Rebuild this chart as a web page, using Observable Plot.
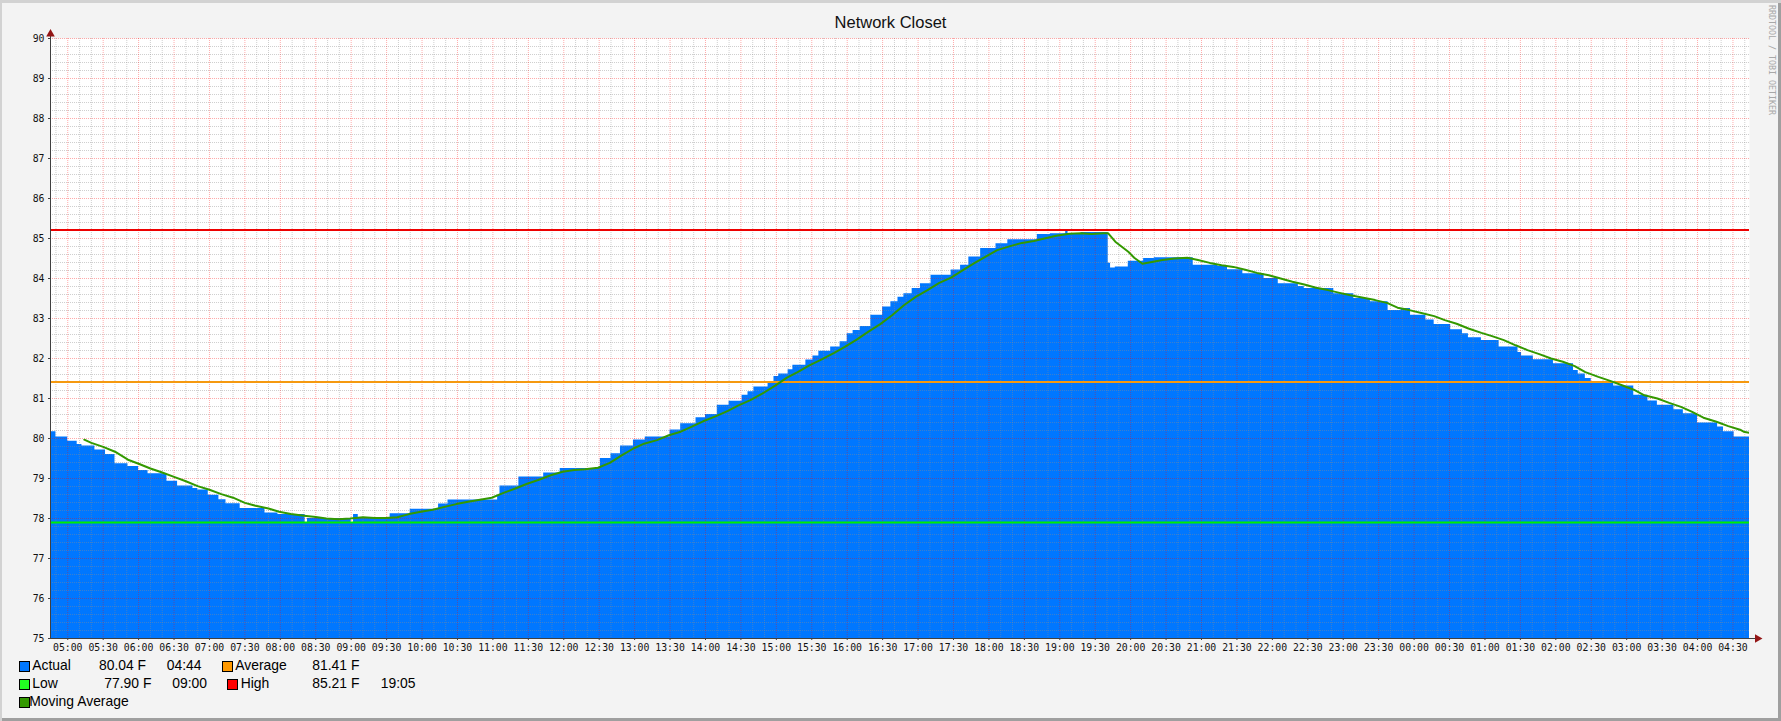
<!DOCTYPE html>
<html><head><meta charset="utf-8">
<script src="https://cdn.jsdelivr.net/npm/d3@7"></script>
<script src="https://cdn.jsdelivr.net/npm/@observablehq/plot@0.6"></script>
<style>
html,body{margin:0;padding:0;background:#f3f3f3;}
#wrap{position:relative;width:1781px;height:721px;background:#f3f3f3;overflow:hidden;box-shadow:inset 2px 3px 0 #d2d2d2, inset -3px -3px 0 #9f9f9f;}
#chart{position:absolute;left:0;top:0;}
#title{position:absolute;left:0;top:13.7px;width:1781px;text-align:center;font-family:"Liberation Sans";font-size:16.5px;line-height:16.5px;color:#111;white-space:pre;}
.t{position:absolute;font-family:"Liberation Sans";font-size:13.9px;line-height:13.9px;color:#000;white-space:pre;}
.sw{position:absolute;width:9px;height:9px;border:1px solid #000;}
#wm{position:absolute;left:1776px;top:5px;transform:rotate(90deg);transform-origin:0 0;font-family:"DejaVu Sans Mono";font-size:8.3px;line-height:9px;height:9px;color:#a8a8a8;white-space:pre;}
</style>
</head><body>
<div id="wrap">
  <div id="chart"></div>
  <div id="title"></div>
  <div id="wm"></div>
</div>
<script>
// ---------- data ----------
const title = "Network Closet";
const watermark = "RRDTOOL / TOBI OETIKER";
const yDomain = [75, 90];
const timeStart = "04:45:24";
const timeEnd = "04:44:00";

// Actual temperature (F): step series [start time, value]
const actualSeries = [
["04:45",80.17],["04:50",80.04],["05:00",79.93],["05:08",79.85],["05:12",79.81],["05:23",79.71],
["05:32",79.60],["05:40",79.37],["05:51",79.30],["06:00",79.20],["06:08",79.12],["06:24",78.93],
["06:33",78.81],["06:46",78.75],["06:50",78.71],["06:59",78.58],["07:08",78.47],["07:14",78.37],
["07:26",78.25],["07:47",78.14],["07:58",78.10],["08:21",77.90],["08:23",78.00],["09:00",77.90],
["09:02",78.10],["09:06",78.02],["09:33",78.12],["09:50",78.23],["10:14",78.36],["10:22",78.46],
["11:04",78.58],["11:06",78.81],["11:22",79.04],["11:43",79.14],["11:57",79.25],["12:31",79.50],
["12:40",79.62],["12:48",79.81],["12:59",79.96],["13:09",80.04],["13:30",80.21],["13:39",80.37],
["13:52",80.52],["14:00",80.60],["14:10",80.83],["14:20",80.93],["14:31",81.08],["14:36",81.17],
["14:41",81.29],["14:53",81.40],["14:58",81.55],["15:02",81.61],["15:10",81.72],["15:14",81.83],
["15:25",81.96],["15:31",82.06],["15:36",82.18],["15:46",82.29],["15:54",82.42],["16:00",82.62],
["16:05",82.70],["16:11",82.80],["16:20",83.08],["16:30",83.29],["16:37",83.42],["16:43",83.53],
["16:48",83.62],["16:55",83.75],["17:02",83.87],["17:11",84.08],["17:28",84.21],["17:36",84.33],
["17:43",84.54],["17:53",84.75],["18:06",84.87],["18:16",84.97],["18:41",85.10],["18:52",85.12],
["19:05",85.21],["19:07",85.12],["19:18",85.15],["19:41",84.38],["19:43",84.26],["19:47",84.29],
["19:58",84.43],["20:11",84.50],["20:20",84.52],["20:53",84.33],["21:14",84.30],["21:22",84.22],
["21:35",84.12],["21:53",84.00],["22:05",83.87],["22:22",83.80],["22:27",83.75],["22:52",83.62],
["23:09",83.50],["23:23",83.42],["23:38",83.20],["23:49",83.25],["23:57",83.08],["00:10",82.96],
["00:17",82.85],["00:31",82.72],["00:41",82.62],["00:46",82.52],["00:57",82.45],["01:12",82.29],
["01:28",82.15],["01:31",82.06],["01:41",81.97],["01:58",81.87],["02:15",81.70],["02:19",81.61],
["02:25",81.50],["02:30",81.42],["02:49",81.31],["03:06",81.08],["03:18",80.94],["03:26",80.83],
["03:40",80.72],["03:48",80.62],["04:00",80.39],["04:17",80.29],["04:22",80.17],["04:31",80.04],
["04:44",80.04]
];

// Moving average (F)
const maSeries = [
["05:14",79.97],["05:20",79.89],["05:30",79.79],["05:40",79.67],["05:51",79.47],["06:00",79.37],
["06:10",79.25],["06:20",79.15],["06:30",79.04],["06:40",78.93],["06:50",78.81],["07:00",78.72],
["07:10",78.61],["07:20",78.52],["07:30",78.39],["07:40",78.31],["07:50",78.25],["07:59",78.17],
["08:09",78.11],["08:20",78.07],["08:30",78.04],["08:39",78.00],["08:49",77.98],["08:59",78.00],
["09:10",78.03],["09:20",78.01],["09:29",78.01],["09:39",78.03],["09:49",78.11],["09:59",78.17],
["10:09",78.22],["10:19",78.29],["10:29",78.36],["10:39",78.42],["10:49",78.47],["10:59",78.52],
["11:09",78.64],["11:19",78.75],["11:29",78.87],["11:39",78.97],["11:49",79.08],["11:59",79.17],
["12:09",79.21],["12:18",79.23],["12:29",79.27],["12:39",79.39],["12:49",79.58],["12:59",79.75],
["13:08",79.87],["13:19",79.96],["13:29",80.08],["13:39",80.17],["13:48",80.29],["13:58",80.43],
["14:09",80.56],["14:19",80.69],["14:28",80.83],["14:38",80.96],["14:48",81.12],["14:59",81.32],
["15:09",81.52],["15:18",81.66],["15:28",81.83],["15:38",81.97],["15:49",82.14],["15:58",82.29],
["16:08",82.47],["16:18",82.67],["16:28",82.86],["16:38",83.08],["16:48",83.33],["16:58",83.54],
["17:08",83.71],["17:18",83.89],["17:28",84.02],["17:38",84.21],["17:48",84.39],["17:58",84.56],
["18:07",84.71],["18:18",84.81],["18:28",84.89],["18:38",84.94],["18:47",85.00],["18:57",85.07],
["19:08",85.12],["19:18",85.13],["19:27",85.11],["19:37",85.13],["19:41",85.13],["19:47",84.92],
["19:58",84.67],["20:03",84.52],["20:10",84.37],["20:27",84.46],["20:37",84.50],["20:48",84.52],
["20:57",84.46],["21:07",84.39],["21:17",84.33],["21:27",84.29],["21:37",84.22],["21:47",84.14],
["21:57",84.08],["22:07",84.00],["22:17",83.92],["22:27",83.85],["22:37",83.77],["22:47",83.71],
["22:57",83.64],["23:06",83.58],["23:17",83.52],["23:27",83.46],["23:37",83.39],["23:46",83.27],
["23:56",83.21],["00:07",83.13],["00:17",83.06],["00:26",82.96],["00:36",82.87],["00:46",82.75],
["00:57",82.64],["01:06",82.56],["01:16",82.46],["01:26",82.33],["01:36",82.21],["01:46",82.11],
["01:56",82.00],["02:06",81.92],["02:16",81.81],["02:25",81.66],["02:36",81.54],["02:46",81.44],
["02:56",81.33],["03:06",81.22],["03:15",81.08],["03:26",81.00],["03:36",80.89],["03:46",80.79],
["03:55",80.67],["04:05",80.52],["04:16",80.42],["04:26",80.31],["04:36",80.22],["04:39",80.17],
["04:44",80.14]
];

// Summary statistics (legend + rules)
const actualLast = 80.04, actualLastTime = "04:44";
const averageValue = 81.41;
const lowValue = 77.90, lowTime = "09:00";
const highValue = 85.21, highTime = "19:05";

// ---------- styles ----------
const colors = {
  actual: "#0077ff", average: "#f5990f", averageSw: "#ff9900",
  low: "#00ee00", lowSw: "#22ff22", high: "#ee0000", highSw: "#ff0000",
  ma: "#339900", axis: "#404040", arrow: "#931515"
};

function parseT(s) {
  const [h, m, sec] = s.split(":").map(Number);
  const day = (h * 60 + m) < 285 ? 2 : 1;
  return new Date(Date.UTC(2024, 0, day, h, m, sec || 0));
}
const xStart = parseT(timeStart), xEnd = parseT(timeEnd);
const actual = actualSeries.map(([t, v]) => ({t: parseT(t), v}));
const ma = maSeries.map(([t, v]) => ({t: parseT(t), v}));

const majorX = d3.utcMinute.every(30).range(xStart, xEnd);
const minorX = d3.utcMinute.every(10).range(xStart, xEnd).filter(d => d.getUTCMinutes() % 30 !== 0);
const majorY = d3.range(yDomain[0], yDomain[1] + 0.001, 1);
const minorY = d3.range(0, 75).map(i => yDomain[0] + i * 0.2).filter(v => Math.abs(v - Math.round(v)) > 0.01);

const grid = {minor: "#8c8c8c", minorOp: 0.42, major: "#ff0000", majorOp: 0.33, dash: "1,1"};

const chart = Plot.plot({
  width: 1781, height: 660,
  marginLeft: 50, marginRight: 32, marginTop: 38, marginBottom: 22,
  style: {background: "transparent", overflow: "visible", fontFamily: "DejaVu Sans Mono", fontSize: "9.8px", color: "#111"},
  x: {type: "utc", domain: [xStart, xEnd]},
  y: {domain: yDomain},
  marks: [
    Plot.frame({fill: "white", stroke: null}),
    Plot.areaY(actual, {x: "t", y1: () => yDomain[0], y2: "v", curve: "step-after", fill: colors.actual, clip: true}),
    Plot.ruleX(minorX, {stroke: grid.minor, strokeOpacity: grid.minorOp, strokeDasharray: grid.dash}),
    Plot.ruleY(minorY, {stroke: grid.minor, strokeOpacity: grid.minorOp, strokeDasharray: grid.dash}),
    Plot.ruleX(majorX, {stroke: grid.major, strokeOpacity: grid.majorOp, strokeDasharray: grid.dash}),
    Plot.ruleY(majorY, {stroke: grid.major, strokeOpacity: grid.majorOp, strokeDasharray: grid.dash}),
    Plot.ruleY([averageValue], {stroke: colors.average, strokeWidth: 2}),
    Plot.ruleY([lowValue], {stroke: colors.low, strokeWidth: 2}),
    Plot.ruleY([highValue], {stroke: colors.high, strokeWidth: 2}),
    Plot.line(ma, {x: "t", y: "v", stroke: colors.ma, strokeWidth: 2, clip: true}),
    Plot.axisX({ticks: majorX, tickFormat: d3.utcFormat("%H:%M"), tickSize: 2, tickPadding: 4, label: null, stroke: colors.axis}),
    Plot.axisY({ticks: majorY, tickFormat: d => d, tickSize: 2, tickPadding: 4, label: null, stroke: colors.axis}),
    Plot.ruleX([xStart], {stroke: colors.axis, insetTop: -5}),
    Plot.ruleY([yDomain[0]], {stroke: colors.axis, insetRight: -8}),
    Plot.dot([0], {frameAnchor: "top-left", symbol: "triangle", r: 3.2, fill: colors.arrow, stroke: null, dy: -4.5}),
    Plot.dot([0], {frameAnchor: "bottom-right", symbol: "triangle", r: 3.2, fill: colors.arrow, stroke: null, rotate: 90, dx: 8})
  ]
});
document.getElementById("chart").appendChild(chart);
document.getElementById("title").textContent = title;
document.getElementById("wm").textContent = watermark;

// ---------- legend ----------
const wrap = document.getElementById("wrap");
function txt(s, x, top) {
  const e = document.createElement("div"); e.className = "t";
  e.style.left = x + "px"; e.style.top = top + "px"; e.textContent = s; wrap.appendChild(e);
}
function sw(c, x, top) {
  const e = document.createElement("div"); e.className = "sw";
  e.style.left = x + "px"; e.style.top = top + "px"; e.style.background = c; wrap.appendChild(e);
}
const f2 = v => v.toFixed(2) + " F";
const r1 = 659.2, r2 = 676.5, r3 = 694.9;
sw(colors.actual, 19, 661); txt("Actual", 32.3, r1); txt(f2(actualLast), 99, r1); txt(actualLastTime, 166.7, r1);
sw(colors.averageSw, 222, 661); txt("Average", 235.3, r1); txt(f2(averageValue), 312.3, r1);
sw(colors.lowSw, 19, 678.5); txt("Low", 32.3, r2); txt(f2(lowValue), 104.3, r2); txt(lowTime, 172.3, r2);
sw(colors.highSw, 227.3, 678.5); txt("High", 240.7, r2); txt(f2(highValue), 312.3, r2); txt(highTime, 380.7, r2);
sw(colors.ma, 19, 696.5); txt("Moving Average", 29.3, r3);
</script>
</body></html>
